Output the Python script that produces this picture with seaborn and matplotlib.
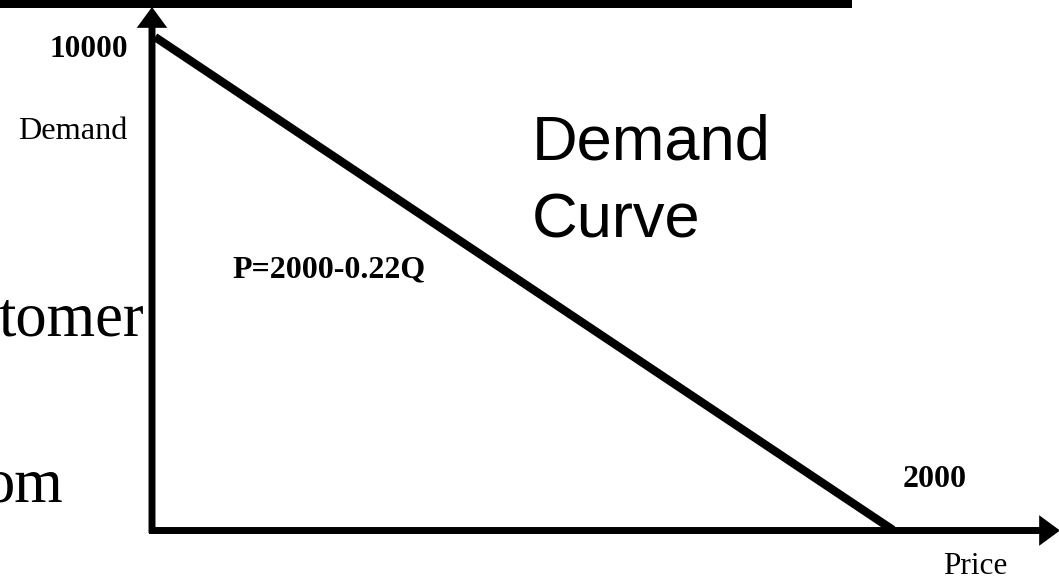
import matplotlib
matplotlib.use("Agg")
import matplotlib.pyplot as plt
import seaborn as sns
import pandas as pd
from matplotlib.patches import Rectangle

# ---- data ----
price = [0, 2000]
demand = [10000, 0]
y_tick_label = "10000"
x_tick_label = "2000"
y_axis_label = "Demand"
x_axis_label = "Price"
curve_title = ["Demand", "Curve"]
equation = "P=2000-0.22Q"
side_text = ["tomer", "om"]

W, H = 1059, 581
sns.set_theme(style="white")
plt.rcParams["font.family"] = ["Liberation Serif", "DejaVu Serif"]
plt.rcParams["text.color"] = "black"

fig = plt.figure(figsize=(W / 100, H / 100), dpi=100)
fig.patch.set_facecolor("white")
ax = fig.add_axes([0, 0, 1, 1])
ax.set_axis_off()

# pixel layout of the axes: x=0 at px 155, x=2000 at px 893; y=0 at px 530, y=10000 at px 37
x0_px, x1_px = 155, 893
y0_px, y1_px = 530, 37
sx = (price[1] - price[0]) / (x1_px - x0_px)
sy = (max(demand) - min(demand)) / (y0_px - y1_px)
ax.set_xlim(-x0_px * sx, (W - x0_px) * sx)
ax.set_ylim(-(H - y0_px) * sy, y0_px * sy)


def dx(px):
    return (px - x0_px) * sx


def dy(py):
    return (y0_px - py) * sy


def fxy(px, py):
    return px / W, 1 - py / H


df = pd.DataFrame({"Price": price, "Demand": demand})
sns.lineplot(data=df, x="Price", y="Demand", color="black", linewidth=6,
             ax=ax, solid_capstyle="butt")

arrow = dict(facecolor="black", edgecolor="none", linewidth=0,
             width=5, headwidth=22, headlength=15, shrink=0)
# y axis arrow
ax.annotate("", xy=(dx(152), dy(7)), xytext=(dx(152), dy(533)),
            arrowprops=arrow, annotation_clip=False)
# x axis arrow
ax.annotate("", xy=(dx(1060), dy(530.5)), xytext=(dx(149), dy(530.5)),
            arrowprops=arrow, annotation_clip=False)

# top bar
fig.add_artist(Rectangle((0, 1 - 8 / H), 852 / W, 8 / H,
                         transform=fig.transFigure, color="black", lw=0))

serif = ["Liberation Serif", "DejaVu Serif"]
sans = ["Liberation Sans", "DejaVu Sans"]
ink = "black"

fig.text(*fxy(128, 57), y_tick_label, ha="right", va="baseline", color=ink,
         fontsize=22.5, fontweight="bold", family=serif)
fig.text(*fxy(127, 139), y_axis_label, ha="right", va="baseline", color=ink,
         fontsize=23.3, family=serif)
fig.text(*fxy(232, 277), equation, ha="left", va="baseline", color=ink,
         fontsize=23, fontweight="bold", family=serif)
fig.text(*fxy(935, 487), x_tick_label, ha="center", va="baseline", color=ink,
         fontsize=23, fontweight="bold", family=serif)
fig.text(*fxy(975, 574), x_axis_label, ha="center", va="baseline", color=ink,
         fontsize=22.5, family=serif)

fig.text(*fxy(532, 160), curve_title[0], ha="left", va="baseline", color=ink,
         fontsize=45.5, family=sans)
fig.text(*fxy(532, 237), curve_title[1], ha="left", va="baseline", color=ink,
         fontsize=45.5, family=sans)

fig.text(*fxy(144, 335), side_text[0], ha="right", va="baseline", color=ink,
         fontsize=45, family=serif)
fig.text(*fxy(63, 502), side_text[1], ha="right", va="baseline", color=ink,
         fontsize=45, family=serif)

fig.savefig("out.png", dpi=100, facecolor="white")
